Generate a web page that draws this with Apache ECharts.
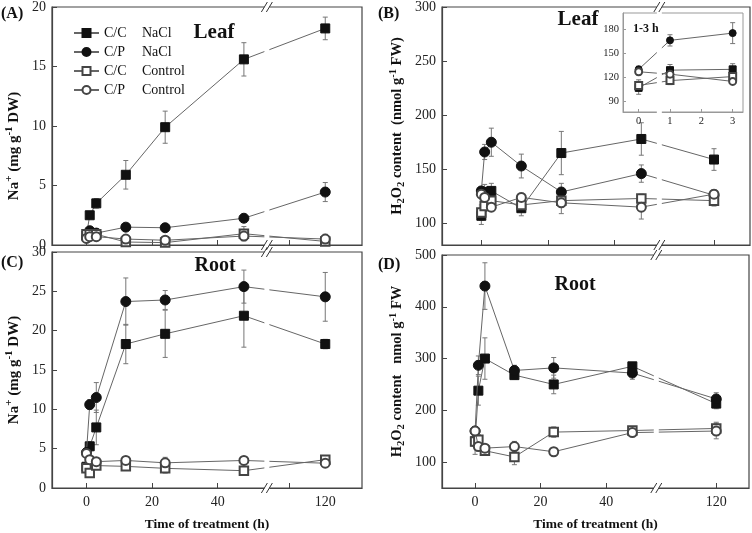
<!DOCTYPE html>
<html><head><meta charset="utf-8">
<script src="https://cdn.jsdelivr.net/npm/echarts@6/dist/echarts.min.js"></script>
<style>html,body{margin:0;padding:0;background:#fff}#c{width:752px;height:533px}</style>
</head><body><div id="c"></div>
<script>
// ---------- data ----------
const hours = [0, 1, 3, 12, 24, 48, 120];
const xTickLabels = [0, 20, 40, 120];
const seriesNames = ['C/C NaCl', 'C/P NaCl', 'C/C Control', 'C/P Control'];

// (A) Leaf Na+ (mg g-1 DW)
const leafNa_CC_NaCl = [0.8, 2.5, 3.5, 5.9, 9.9, 15.6, 18.2];
const leafNa_CC_NaCl_err = [0.2, 0.2, 0.4, 1.2, 1.35, 1.4, 0.95];
const leafNa_CP_NaCl = [0.6, 1.2, 1.0, 1.5, 1.45, 2.25, 4.45];
const leafNa_CP_NaCl_err = [0.1, 0.1, 0.15, 0.15, 0.1, 0.3, 0.8];
const leafNa_CC_Ctrl = [0.9, 0.9, 0.9, 0.25, 0.2, 0.95, 0.3];
const leafNa_CC_Ctrl_err = [0.4, 0.3, 0.3, 0.15, 0.15, 0.6, 0.2];
const leafNa_CP_Ctrl = [0.55, 0.7, 0.7, 0.5, 0.4, 0.75, 0.5];
const leafNa_CP_Ctrl_err = [0.3, 0.3, 0.3, 0.3, 0.3, 0.3, 0.4];

// (B) Leaf H2O2 (nmol g-1 FW)
const leafH2O2_CC_NaCl = [107, 129, 130, 114, 165, 178, 159];
const leafH2O2_CC_NaCl_err = [8, 7, 7, 7, 20, 15, 10];
const leafH2O2_CP_NaCl = [130, 166, 175, 153, 129, 146, 126];
const leafH2O2_CP_NaCl_err = [4, 7, 13, 11, 8, 8, 5];
const leafH2O2_CC_Ctrl = [110, 116, 121, 117, 121, 123, 121];
const leafH2O2_CC_Ctrl_err = [7, 5, 5, 5, 4, 4, 5];
const leafH2O2_CP_Ctrl = [127, 124, 115, 124, 119, 115, 127];
const leafH2O2_CP_Ctrl_err = [4, 5, 4, 4, 10, 11, 4];

// (C) Root Na+ (mg g-1 DW)
const rootNa_CC_NaCl = [2.7, 5.3, 7.7, 18.3, 19.6, 21.9, 18.3];
const rootNa_CC_NaCl_err = [0.3, 0.6, 2.2, 2.5, 3.0, 4.0, 0.6];
const rootNa_CP_NaCl = [4.5, 10.6, 11.5, 23.7, 23.9, 25.6, 24.3];
const rootNa_CP_NaCl_err = [0.4, 0.6, 1.9, 3.0, 1.2, 2.1, 3.1];
const rootNa_CC_Ctrl = [2.5, 1.9, 2.85, 2.75, 2.5, 2.2, 3.6];
const rootNa_CC_Ctrl_err = [0.3, 0.2, 0.3, 0.4, 0.6, 0.4, 0.3];
const rootNa_CP_Ctrl = [4.4, 3.6, 3.35, 3.5, 3.2, 3.5, 3.15];
const rootNa_CP_Ctrl_err = [0.5, 0.3, 0.3, 0.5, 0.7, 0.3, 0.3];

// (D) Root H2O2 (nmol g-1 FW)
const rootH2O2_CC_NaCl = [140, 238, 300, 268, 250, 285, 213];
const rootH2O2_CC_NaCl_err = [25, 28, 40, 8, 18, 5, 10];
const rootH2O2_CP_NaCl = [160, 287, 440, 277, 282, 272, 222];
const rootH2O2_CP_NaCl_err = [8, 18, 45, 10, 20, 12, 12];
const rootH2O2_CC_Ctrl = [140, 143, 122, 110, 158, 161, 165];
const rootH2O2_CC_Ctrl_err = [10, 10, 8, 15, 10, 4, 12];
const rootH2O2_CP_Ctrl = [160, 130, 127, 130, 120, 157, 160];
const rootH2O2_CP_Ctrl_err = [8, 8, 6, 10, 8, 4, 15];

// inset (B) uses the first three time points (0, 1, 3 h)
const insetHours = [0, 1, 3];

// ---------- broken time axis ----------
const POST_SCALE = 0.545; // compressed scale after the break
function axisPos(h, p120) { return h <= 50 ? h : p120 + (h - 120) * POST_SCALE; }
function axisHour(v, p120) { return v <= 50 ? v : Math.round(120 + (v - p120) / POST_SCALE); }

const FONT = 'Liberation Serif';
const symbols = ['rect', 'circle', 'emptyRect', 'emptyCircle'];
const symSizes = [9, 10, 8.5, 9];
const symStyles = [
  {color: '#111', borderColor: '#111', borderWidth: 1},
  {color: '#111', borderColor: '#111', borderWidth: 1},
  {color: '#444', borderColor: '#444', borderWidth: 0.8},
  {color: '#444', borderColor: '#444', borderWidth: 0.8}
];

const panels = [
  { grid: {left: 52, top: 7, width: 310, height: 238}, p120: 72.8, xmin: -10.5, xmax: 84.0, brk: 55.0,
    ymin: 0, ymax: 20, yLabels: [0, 5, 10, 15, 20], showX: false, extraTick: true,
    vals: [leafNa_CC_NaCl, leafNa_CP_NaCl, leafNa_CC_Ctrl, leafNa_CP_Ctrl],
    errs: [leafNa_CC_NaCl_err, leafNa_CP_NaCl_err, leafNa_CC_Ctrl_err, leafNa_CP_Ctrl_err],
    yName: 'Na{sup|+} (mg g{sup|-1} DW)', nameGap: 28, nameSize: 15, namePad: [0, 40, 0, 0] },
  { grid: {left: 442, top: 7, width: 308, height: 238}, p120: 69.8, xmin: -11.8, xmax: 80.6, brk: 53.4,
    ymin: 80, ymax: 300, yLabels: [100, 150, 200, 250, 300], showX: false, extraTick: false,
    vals: [leafH2O2_CC_NaCl, leafH2O2_CP_NaCl, leafH2O2_CC_Ctrl, leafH2O2_CP_Ctrl],
    errs: [leafH2O2_CC_NaCl_err, leafH2O2_CP_NaCl_err, leafH2O2_CC_Ctrl_err, leafH2O2_CP_Ctrl_err],
    yName: 'H{sub|2}O{sub|2} content  (nmol g{sup|-1} FW)', nameGap: 35, nameSize: 14.5, namePad: [0, 0, 0, 0] },
  { grid: {left: 52, top: 252, width: 310, height: 236}, p120: 72.8, xmin: -10.5, xmax: 84.0, brk: 55.0,
    ymin: 0, ymax: 30, yLabels: [0, 5, 10, 15, 20, 25, 30], showX: true, extraTick: true,
    vals: [rootNa_CC_NaCl, rootNa_CP_NaCl, rootNa_CC_Ctrl, rootNa_CP_Ctrl],
    errs: [rootNa_CC_NaCl_err, rootNa_CP_NaCl_err, rootNa_CC_Ctrl_err, rootNa_CP_Ctrl_err],
    yName: 'Na{sup|+} (mg g{sup|-1} DW)', nameGap: 28, nameSize: 15, namePad: [0, 0, 0, 0] },
  { grid: {left: 442, top: 255, width: 307, height: 233}, p120: 73.6, xmin: -10.1, xmax: 83.6, brk: 55.3,
    ymin: 50, ymax: 500, yLabels: [100, 200, 300, 400, 500], showX: true, extraTick: false,
    vals: [rootH2O2_CC_NaCl, rootH2O2_CP_NaCl, rootH2O2_CC_Ctrl, rootH2O2_CP_Ctrl],
    errs: [rootH2O2_CC_NaCl_err, rootH2O2_CP_NaCl_err, rootH2O2_CC_Ctrl_err, rootH2O2_CP_Ctrl_err],
    yName: 'H{sub|2}O{sub|2} content   nmol g{sup|-1} FW', nameGap: 35, nameSize: 14.5, namePad: [0, 0, 0, 0] }
];

const richName = (size) => ({
  sup: {fontSize: size - 4, fontWeight: 'bold', fontFamily: FONT, padding: [0, 0, size - 6, 0], color: '#111'},
  sub: {fontSize: size - 4, fontWeight: 'bold', fontFamily: FONT, padding: [size - 6, 0, 0, 0], color: '#111'}
});

function errRender(params, api) {
  const x = api.value(0), y = api.value(1), e = api.value(2);
  const t = api.coord([x, y + e]), b = api.coord([x, y - e]);
  const hw = 2.5;
  const st = {stroke: '#777', lineWidth: 1};
  return {type: 'group', children: [
    {type: 'line', shape: {x1: t[0], y1: t[1], x2: b[0], y2: b[1]}, style: st},
    {type: 'line', shape: {x1: t[0] - hw, y1: t[1], x2: t[0] + hw, y2: t[1]}, style: st},
    {type: 'line', shape: {x1: b[0] - hw, y1: b[1], x2: b[0] + hw, y2: b[1]}, style: st}
  ]};
}

const grids = [], xAxes = [], yAxes = [];
const axisLineStyle = {color: '#444', width: 1.2};
const lineSeries = [], errSeries = [];
panels.forEach((p, i) => {
  grids.push(Object.assign({show: true, borderColor: '#444', borderWidth: 1.2, backgroundColor: 'transparent'}, p.grid));
  const tickVals = [0, 20, 40].concat(p.extraTick ? [axisPos(100, p.p120)] : [axisPos(120, p.p120)]);
  xAxes.push({
    type: 'value', gridIndex: i, min: p.xmin, max: p.xmax,
    axisLine: {onZero: false, lineStyle: axisLineStyle}, splitLine: {show: false},
    axisTick: {inside: true, length: 5, lineStyle: {color: '#444'}, customValues: tickVals},
    axisLabel: {show: p.showX, customValues: xTickLabels.map(h => axisPos(h, p.p120)),
      formatter: v => String(axisHour(v, p.p120)), fontFamily: FONT, fontSize: 14, color: '#222', margin: 7},
    name: p.showX ? 'Time of treatment (h)' : '', nameLocation: 'middle', nameGap: 30,
    nameTextStyle: {fontFamily: FONT, fontSize: 13.5, fontWeight: 'bold', color: '#111'}
  });
  yAxes.push({
    type: 'value', gridIndex: i, min: p.ymin, max: p.ymax,
    axisLine: {onZero: false, lineStyle: axisLineStyle}, splitLine: {show: false},
    axisTick: {inside: true, length: 5, lineStyle: {color: '#444'}, customValues: p.yLabels},
    axisLabel: {customValues: p.yLabels, fontFamily: FONT, fontSize: 14, color: '#222', margin: 6},
    name: p.yName, nameLocation: 'middle', nameGap: p.nameGap,
    nameTextStyle: {fontFamily: FONT, fontSize: p.nameSize, fontWeight: 'bold', color: '#111',
      padding: p.namePad, rich: richName(p.nameSize)}
  });
  seriesNames.forEach((nm, k) => {
    const pts = hours.map((h, j) => [axisPos(h, p.p120), p.vals[k][j], p.errs[k][j]]);
    lineSeries.push({
      type: 'line', name: nm, xAxisIndex: i, yAxisIndex: i, data: pts.map(d => [d[0], d[1]]),
      symbol: symbols[k], symbolSize: symSizes[k], showAllSymbol: true,
      lineStyle: {color: '#666', width: 1}, itemStyle: symStyles[k],
      z: 3 + k, animation: false
    });
    errSeries.push({
      type: 'custom', name: nm + ' error', xAxisIndex: i, yAxisIndex: i, data: pts,
      encode: {x: 0, y: 1}, renderItem: errRender, z: 1, silent: true
    });
  });
});

// inset grid (index 4)
const bP = panels[1];
grids.push({left: 623, top: 13, width: 120, height: 99, show: true, borderColor: '#999', borderWidth: 1, backgroundColor: '#fff', z: 10});
xAxes.push({type: 'value', gridIndex: 4, min: -0.5, max: 3.33, z: 10,
  axisLine: {onZero: false, lineStyle: {color: '#999'}}, splitLine: {show: false},
  axisTick: {inside: true, length: 3, lineStyle: {color: '#999'}, customValues: [0, 1, 2, 3]},
  axisLabel: {customValues: [0, 1, 2, 3], fontFamily: FONT, fontSize: 10.5, color: '#222', margin: 4}});
yAxes.push({type: 'value', gridIndex: 4, min: 77, max: 200, z: 10,
  axisLine: {onZero: false, lineStyle: {color: '#999'}}, splitLine: {show: false},
  axisTick: {inside: true, length: 3, lineStyle: {color: '#999'}, customValues: [90, 120, 150, 180]},
  axisLabel: {customValues: [90, 120, 150, 180], fontFamily: FONT, fontSize: 10.5, color: '#222', margin: 4}});
seriesNames.forEach((nm, k) => {
  const pts = insetHours.map((h, j) => [h, bP.vals[k][j], bP.errs[k][j]]);
  errSeries.push({type: 'custom', name: nm + ' error', xAxisIndex: 4, yAxisIndex: 4, data: pts, encode: {x: 0, y: 1},
    renderItem: errRender, z: 11, silent: true});
  lineSeries.push({type: 'line', name: nm, xAxisIndex: 4, yAxisIndex: 4, data: pts.map(d => [d[0], d[1]]),
    symbol: symbols[k], symbolSize: 7, lineStyle: {color: '#666', width: 1},
    itemStyle: symStyles[k], z: 12 + k, animation: false});
});

const chart = echarts.init(document.getElementById('c'), null, {renderer: 'canvas'});
chart.setOption({
  backgroundColor: '#fff',
  animation: false,
  grid: grids, xAxis: xAxes, yAxis: yAxes, series: lineSeries.concat(errSeries),
  legend: {
    data: seriesNames, left: 68, top: 21, orient: 'vertical', itemGap: 5, itemWidth: 25, itemHeight: 10,
    textStyle: {fontFamily: FONT, fontSize: 14, color: '#111',
      rich: {a: {width: 38, fontFamily: FONT, fontSize: 14, color: '#111'}, b: {fontFamily: FONT, fontSize: 14, color: '#111'}}},
    formatter: n => { const s = n.split(' '); return '{a|' + s[0] + '}{b|' + s[1] + '}'; },
    selectedMode: false
  }
});

// ---------- annotations ----------
const g = [];
const txt = (text, x, y, size, align) => g.push({type: 'text', x: x, y: y, z: 120,
  style: {text: text, fontFamily: FONT, fontSize: size, fontWeight: 'bold', fill: '#111', textAlign: align, textVerticalAlign: 'middle'}});
txt('(A)', 1, 14, 16, 'left');
txt('(B)', 378, 14, 16, 'left');
txt('(C)', 1, 263, 16, 'left');
txt('(D)', 378, 265, 16, 'left');
txt('Leaf', 214, 33, 21, 'center');
txt('Leaf', 578, 20, 21, 'center');
txt('Root', 215, 266, 20, 'center');
txt('Root', 575, 285, 20, 'center');
txt('1-3 h', 633, 29, 12, 'left');

panels.forEach((p, i) => {
  const px = chart.convertToPixel({xAxisIndex: i}, p.brk);
  const yT = chart.convertToPixel({yAxisIndex: i}, p.ymax);
  const yB = chart.convertToPixel({yAxisIndex: i}, p.ymin);
  g.push({type: 'rect', z: 100, shape: {x: px - 2.5, y: yT - 1, width: 5, height: yB - yT + 2}, style: {fill: '#fff'}});
  [yT, yB].forEach(y => {
    [-2.5, 2.5].forEach(dx => {
      g.push({type: 'line', z: 101, shape: {x1: px + dx - 3, y1: y + 5, x2: px + dx + 3, y2: y - 5},
        style: {stroke: '#333', lineWidth: 1}});
    });
  });
});
chart.setOption({graphic: g});
</script></body></html>
